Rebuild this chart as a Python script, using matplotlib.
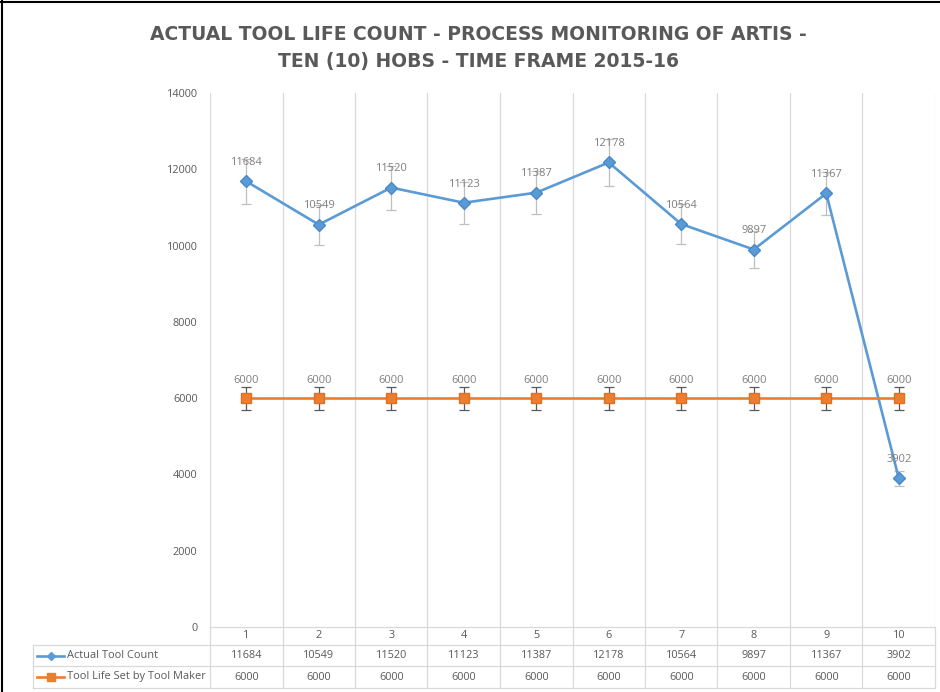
import matplotlib
matplotlib.use("Agg")
import matplotlib.pyplot as plt
import matplotlib.transforms as mtransforms
from matplotlib.lines import Line2D
import numpy as np

plt.rcParams['font.family'] = ['Open Sans', 'DejaVu Sans']

categories = ["1", "2", "3", "4", "5", "6", "7", "8", "9", "10"]
actual = [11684, 10549, 11520, 11123, 11387, 12178, 10564, 9897, 11367, 3902]
maker = [6000, 6000, 6000, 6000, 6000, 6000, 6000, 6000, 6000, 6000]
series_names = ["Actual Tool Count", "Tool Life Set by Tool Maker"]
title = "ACTUAL TOOL LIFE COUNT - PROCESS MONITORING OF ARTIS -\nTEN (10) HOBS - TIME FRAME 2015-16"
err_pct = 0.05

BLUE = "#5B9BD5"
ORANGE = "#ED7D31"
GRAY_TXT = "#595959"
LBL = "#7F7F7F"
GRID = "#D9D9D9"

W, H = 940, 692
fig = plt.figure(figsize=(W / 100, H / 100), dpi=100)

def fx(p):
    return p / W

def fy(p):
    return 1 - p / H

left, right, top, bottom = 210, 935, 93, 627
ax = fig.add_axes([fx(left), fy(bottom), fx(right) - fx(left), fy(top) - fy(bottom)])
x = np.arange(1, len(categories) + 1)
ax.set_xlim(0.5, len(categories) + 0.5)
ax.set_ylim(0, 14000)
ax.set_yticks(np.arange(0, 14001, 2000))
ax.tick_params(axis='y', length=0, pad=9, labelsize=7.8, labelcolor=GRAY_TXT)
ax.set_xticks([])
for s in ax.spines.values():
    s.set_visible(False)
ax.set_xticks(np.arange(0.5, len(categories) + 1, 1), minor=True)
ax.tick_params(axis='x', which='minor', length=0)
ax.grid(True, which='minor', axis='x', color=GRID, lw=0.9)

# series
ax.errorbar(x, actual, yerr=np.array(actual) * err_pct, fmt='none', ecolor="#BFBFBF",
            elinewidth=0.9, capsize=3.5, capthick=0.9, zorder=2)
ax.errorbar(x, maker, yerr=np.array(maker) * err_pct, fmt='none', ecolor="#595959",
            elinewidth=0.9, capsize=3.5, capthick=0.9, zorder=2)
ax.plot(x, actual, color=BLUE, lw=1.9, marker='D', ms=6, mfc=BLUE, mec="#4A89C8",
        mew=1.0, zorder=3)
ax.plot(x, maker, color=ORANGE, lw=1.9, marker='s', ms=7.5, mfc=ORANGE, mec="#E07024",
        mew=1.0, zorder=3)

for xi, v in zip(x, actual):
    ax.annotate(str(v), (xi, v), xytext=(0, 9.5), textcoords='offset points',
                ha='center', va='bottom', fontsize=8, color=LBL, zorder=4)
for xi, v in zip(x, maker):
    ax.annotate(str(v), (xi, v), xytext=(0, 8.5), textcoords='offset points',
                ha='center', va='bottom', fontsize=8, color=LBL, zorder=4)

# data table
bt = mtransforms.blended_transform_factory(ax.transData, fig.transFigure)
row_y = [627, 645, 666, 688]
tcol = GRID
fig.add_artist(Line2D([fx(left), fx(right)], [fy(627), fy(627)], color=tcol, lw=0.9))
for ry in row_y[1:]:
    fig.add_artist(Line2D([fx(33), fx(right)], [fy(ry), fy(ry)], color=tcol, lw=0.9))
for b in np.arange(0.5, len(categories) + 1, 1):
    fig.add_artist(Line2D([b, b], [fy(627), fy(688)], color=tcol, lw=0.9, transform=bt))
fig.add_artist(Line2D([fx(33), fx(33)], [fy(645), fy(688)], color=tcol, lw=0.9))

def cy(i):
    return fy((row_y[i] + row_y[i + 1]) / 2)

for xi, c in zip(x, categories):
    fig.text(xi, cy(0), c, transform=bt, ha='center', va='center', fontsize=7.8, color=GRAY_TXT)
for xi, v in zip(x, actual):
    fig.text(xi, cy(1), str(v), transform=bt, ha='center', va='center', fontsize=7.8, color=GRAY_TXT)
for xi, v in zip(x, maker):
    fig.text(xi, cy(2), str(v), transform=bt, ha='center', va='center', fontsize=7.8, color=GRAY_TXT)

for i, (name, col, mk, ms) in enumerate([(series_names[0], BLUE, 'D', 4.5),
                                          (series_names[1], ORANGE, 's', 6)]):
    yy = cy(i + 1)
    fig.add_artist(Line2D([fx(37), fx(64)], [yy, yy], color=col, lw=1.9))
    fig.add_artist(Line2D([fx(50.5)], [yy], color=col, marker=mk, ms=ms, lw=0))
    fig.text(fx(67), yy, name, ha='left', va='center', fontsize=7.9, color=GRAY_TXT)

fig.text(fx(478), fy(48), title, ha='center', va='center', fontsize=13.5,
         fontweight='bold', color=GRAY_TXT, linespacing=1.5, family='DejaVu Sans')

fig.add_artist(Line2D([fx(2), fx(2)], [fy(1), 0], color='black', lw=1.5))
fig.add_artist(Line2D([fx(1), 1], [fy(2), fy(2)], color='black', lw=1.5))

fig.savefig("out.png", dpi=100)
